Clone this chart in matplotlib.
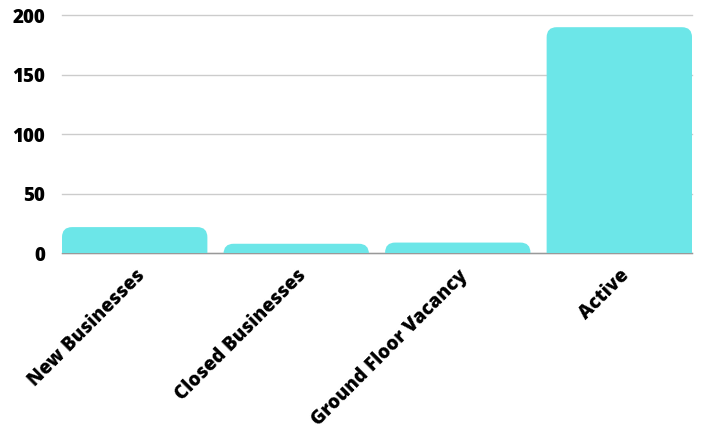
import matplotlib
matplotlib.use("Agg")
import matplotlib.pyplot as plt
from matplotlib.patches import FancyBboxPatch

categories = ["New Businesses", "Closed Businesses", "Ground Floor Vacancy", "Active"]
counts = [22, 8, 9, 190]
yticks = [0, 50, 100, 150, 200]

plt.rcParams['font.family'] = ['Open Sans', 'DejaVu Sans']

fig = plt.figure(figsize=(7.02, 4.32), dpi=100)
ax = fig.add_axes([0.0883, 0.4137, 0.8975, 0.5509])

bar_w = 0.9
bars = ax.bar(range(len(categories)), counts, width=bar_w, color='#6ce6e8')

ax.set_xlim(-bar_w / 2, len(categories) - 1 + bar_w / 2)
ax.set_ylim(0, 200)

# swap the plain rectangles for ones with rounded top corners
ry = 8.5                    # rounding in data y units
rx = 0.062                  # rounding in data x units
for b in bars:
    x, w, h = b.get_x(), b.get_width(), b.get_height()
    b.set_visible(False)
    p = FancyBboxPatch((x, -ry), w, h + ry,
                       boxstyle="round,pad=0,rounding_size=%f" % rx,
                       mutation_aspect=ry / rx,
                       facecolor='#6ce6e8', edgecolor='none', zorder=2)
    ax.add_patch(p)

ax.set_yticks(yticks)
ax.yaxis.grid(True, color='#cccccc', linewidth=1.0)
for gl in ax.get_ygridlines():
    gl.set_clip_on(False)
ax.set_axisbelow(True)

for s in ['top', 'right', 'left']:
    ax.spines[s].set_visible(False)
ax.spines['bottom'].set_color('#999999')
ax.spines['bottom'].set_linewidth(1.0)
ax.spines['bottom'].set_zorder(1)

ax.tick_params(axis='y', length=0, labelsize=13.5, pad=12)
ax.tick_params(axis='x', length=0, labelsize=13.6, pad=9)
ax.set_xticks(range(len(categories)))
ax.set_xticklabels(categories, rotation=45, ha='right', va='top',
                   rotation_mode='anchor', fontweight=800)
for lbl in ax.get_yticklabels():
    lbl.set_fontweight(800)

fig.savefig('out.png', dpi=100, facecolor='white')
